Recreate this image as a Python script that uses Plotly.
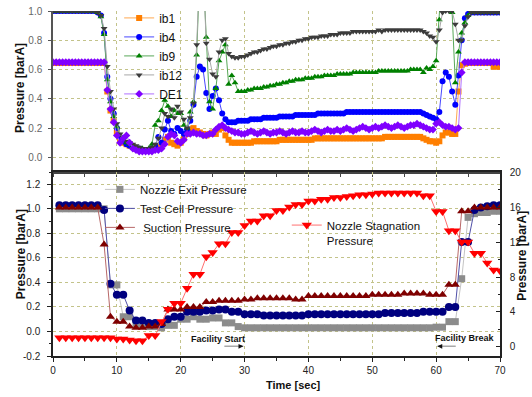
import plotly.graph_objects as go

# ---------------- data: top panel (sampled every 0.5 s, 0..70 s) ----------------
time_top = [i / 2 for i in range(141)]

ib1 = [0.645, 0.645, 0.645, 0.645, 0.645, 0.645, 0.645, 0.645, 0.645, 0.645,
       0.645, 0.645, 0.645, 0.645, 0.645, 0.645, 0.645, 0.45, 0.32, 0.25,
       0.17, 0.12, 0.10, 0.09, 0.08, 0.07, 0.06, 0.05, 0.05, 0.05,
       0.05, 0.05, 0.06, 0.07, 0.09, 0.12, 0.14, 0.10, 0.09, 0.08,
       0.10, 0.13, 0.16, 0.19, 0.20, 0.18, 0.17, 0.16, 0.15, 0.16,
       0.17, 0.16, 0.19, 0.20, 0.15, 0.12, 0.10, 0.10, 0.10, 0.10,
       0.10, 0.10, 0.10, 0.11, 0.11, 0.11, 0.11, 0.11, 0.11, 0.11,
       0.11, 0.12, 0.12, 0.12, 0.12, 0.12, 0.12, 0.12, 0.12, 0.12,
       0.12, 0.12, 0.13, 0.13, 0.13, 0.13, 0.13, 0.13, 0.13, 0.13,
       0.13, 0.13, 0.13, 0.13, 0.13, 0.13, 0.13, 0.13, 0.13, 0.13,
       0.13, 0.13, 0.13, 0.13, 0.14, 0.14, 0.14, 0.14, 0.14, 0.14,
       0.14, 0.14, 0.14, 0.14, 0.14, 0.14, 0.13, 0.12, 0.11, 0.11,
       0.10, 0.11, 0.15, 0.17, 0.17, 0.16, 0.16, 0.45, 0.63, 0.64,
       0.645, 0.645, 0.645, 0.645, 0.645, 0.645, 0.645, 0.645, 0.62, 0.62,
       0.62]

ib4 = [1.00, 1.00, 1.00, 1.00, 1.00, 1.00, 1.00, 1.00, 1.00, 1.00,
       1.00, 1.00, 1.00, 1.00, 0.99, 0.97, 0.85, 0.55, 0.40, 0.30,
       0.20, 0.14, 0.11, 0.09, 0.08, 0.07, 0.06, 0.06, 0.05, 0.05,
       0.05, 0.06, 0.08, 0.14, 0.10, 0.19, 0.25, 0.18, 0.16, 0.20,
       0.18, 0.16, 0.19, 0.25, 0.36, 0.55, 0.62, 0.60, 0.44, 0.33,
       0.42, 0.47, 0.39, 0.30, 0.26, 0.24, 0.24, 0.24, 0.25, 0.25,
       0.25, 0.25, 0.26, 0.26, 0.26, 0.26, 0.27, 0.27, 0.27, 0.27,
       0.27, 0.28, 0.28, 0.28, 0.28, 0.28, 0.29, 0.29, 0.29, 0.29,
       0.29, 0.29, 0.29, 0.30, 0.30, 0.30, 0.30, 0.30, 0.30, 0.30,
       0.30, 0.30, 0.31, 0.31, 0.31, 0.31, 0.31, 0.31, 0.31, 0.31,
       0.31, 0.31, 0.31, 0.31, 0.31, 0.31, 0.31, 0.31, 0.31, 0.31,
       0.31, 0.31, 0.31, 0.31, 0.31, 0.31, 0.30, 0.29, 0.28, 0.27,
       0.26, 0.31, 0.52, 0.58, 0.55, 0.45, 0.36, 0.56, 0.80, 0.95,
       0.98, 0.99, 0.99, 0.99, 0.99, 0.99, 0.99, 0.99, 0.99, 0.99,
       0.99]

ib9 = [1.00, 1.00, 1.00, 1.00, 1.00, 1.00, 1.00, 1.00, 1.00, 1.00,
       1.00, 1.00, 1.00, 1.00, 0.99, 0.96, 0.84, 0.53, 0.38, 0.28,
       0.21, 0.15, 0.12, 0.10, 0.09, 0.08, 0.07, 0.06, 0.06, 0.05,
       0.06, 0.09, 0.22, 0.25, 0.32, 0.39, 0.35, 0.28, 0.32, 0.30,
       0.30, 0.22, 0.20, 0.31, 0.38, 0.70, 1.30, 1.30, 0.82, 0.38,
       0.33, 0.47, 0.66, 0.72, 0.77, 0.50, 0.56, 0.51, 0.45, 0.45,
       0.45, 0.46, 0.46, 0.47, 0.47, 0.47, 0.48, 0.48, 0.49, 0.49,
       0.50, 0.50, 0.51, 0.51, 0.52, 0.52, 0.53, 0.53, 0.53, 0.54,
       0.54, 0.54, 0.55, 0.55, 0.55, 0.56, 0.56, 0.56, 0.56, 0.57,
       0.57, 0.57, 0.57, 0.57, 0.58, 0.58, 0.58, 0.58, 0.58, 0.58,
       0.58, 0.58, 0.59, 0.59, 0.59, 0.59, 0.59, 0.59, 0.59, 0.59,
       0.59, 0.59, 0.60, 0.60, 0.60, 0.60, 0.58, 0.61, 0.60, 0.62,
       0.66, 0.94, 1.30, 1.30, 1.30, 0.99, 0.51, 0.72, 0.85, 0.92,
       0.97, 0.99, 0.99, 0.99, 0.99, 0.99, 0.99, 0.99, 0.99, 0.99,
       0.99]

ib12 = [1.00, 1.00, 1.00, 1.00, 1.00, 1.00, 1.00, 1.00, 1.00, 1.00,
        1.00, 1.00, 1.00, 1.00, 0.99, 0.97, 0.88, 0.62, 0.45, 0.33,
        0.23, 0.16, 0.13, 0.11, 0.10, 0.09, 0.08, 0.07, 0.06, 0.06,
        0.06, 0.07, 0.09, 0.13, 0.20, 0.30, 0.28, 0.33, 0.27, 0.35,
        0.31, 0.26, 0.20, 0.27, 0.37, 0.77, 1.30, 1.30, 0.78, 0.67,
        0.57, 0.55, 0.72, 0.80, 0.81, 0.71, 0.69, 0.68, 0.68, 0.69,
        0.69, 0.70, 0.71, 0.72, 0.72, 0.73, 0.74, 0.74, 0.75, 0.76,
        0.76, 0.77, 0.77, 0.78, 0.78, 0.79, 0.79, 0.80, 0.80, 0.81,
        0.81, 0.82, 0.82, 0.82, 0.83, 0.83, 0.83, 0.84, 0.84, 0.84,
        0.85, 0.85, 0.85, 0.85, 0.86, 0.86, 0.86, 0.86, 0.86, 0.86,
        0.86, 0.86, 0.87, 0.86, 0.87, 0.87, 0.87, 0.87, 0.87, 0.87,
        0.87, 0.87, 0.87, 0.87, 0.87, 0.87, 0.86, 0.85, 0.83, 0.82,
        0.79, 0.87, 0.99, 1.00, 1.00, 1.00, 0.91, 0.80, 0.80, 0.90,
        0.96, 0.99, 0.99, 0.99, 0.99, 0.99, 0.99, 0.99, 0.99, 0.99,
        0.99]

de1 = [0.65, 0.65, 0.65, 0.65, 0.65, 0.65, 0.65, 0.65, 0.65, 0.65,
       0.65, 0.65, 0.65, 0.65, 0.65, 0.65, 0.65, 0.46, 0.33, 0.24,
       0.15, 0.10, 0.13, 0.15, 0.10, 0.06, 0.05, 0.04, 0.04, 0.04,
       0.04, 0.04, 0.05, 0.05, 0.06, 0.09, 0.14, 0.16, 0.15, 0.11,
       0.10, 0.12, 0.16, 0.16, 0.17, 0.16, 0.16, 0.15, 0.15, 0.16,
       0.16, 0.19, 0.21, 0.22, 0.20, 0.19, 0.18, 0.17, 0.17, 0.16,
       0.16, 0.17, 0.18, 0.17, 0.16, 0.17, 0.18, 0.17, 0.16, 0.17,
       0.17, 0.18, 0.17, 0.16, 0.17, 0.18, 0.17, 0.17, 0.18, 0.17,
       0.17, 0.18, 0.19, 0.18, 0.17, 0.18, 0.19, 0.18, 0.18, 0.19,
       0.18, 0.19, 0.20, 0.19, 0.18, 0.19, 0.20, 0.21, 0.20, 0.19,
       0.20, 0.21, 0.20, 0.21, 0.22, 0.21, 0.20, 0.21, 0.22, 0.21,
       0.20, 0.21, 0.22, 0.22, 0.23, 0.22, 0.21, 0.20, 0.19, 0.19,
       0.23, 0.24, 0.22, 0.21, 0.21, 0.20, 0.19, 0.20, 0.58, 0.65,
       0.65, 0.65, 0.65, 0.65, 0.65, 0.65, 0.65, 0.65, 0.65, 0.65,
       0.65]

# ---------------- data: bottom panel (every 1 s, 1..70 s) ----------------
time_bottom = list(range(1, 71))

nozzle_exit = [1.00, 1.00, 1.00, 1.00, 1.00, 1.00, 1.00, 1.00, 0.38, 0.38,
               0.12, 0.12, 0.06, 0.06, 0.04, 0.04, 0.03, 0.05, 0.05, 0.10,
               0.10, 0.12, 0.10, 0.10, 0.11, 0.11, 0.07, 0.07, 0.04, 0.03,
               0.03, 0.03, 0.03, 0.03, 0.03, 0.03, 0.03, 0.03, 0.03, 0.03,
               0.03, 0.03, 0.03, 0.03, 0.03, 0.03, 0.03, 0.03, 0.03, 0.03,
               0.03, 0.03, 0.03, 0.03, 0.03, 0.03, 0.03, 0.03, 0.03, 0.035,
               0.035, 0.08, 0.08, 0.43, 0.93, 0.96, 0.97, 0.97, 0.98, 0.98]

test_cell = [1.03, 1.03, 1.03, 1.03, 1.03, 1.03, 1.03, 0.99, 0.39, 0.30,
             0.30, 0.17, 0.09, 0.09, 0.07, 0.07, 0.06, 0.10, 0.12, 0.12,
             0.16, 0.16, 0.16, 0.17, 0.17, 0.18, 0.18, 0.16, 0.16, 0.14,
             0.14, 0.14, 0.13, 0.13, 0.13, 0.13, 0.13, 0.13, 0.13, 0.14,
             0.14, 0.14, 0.14, 0.14, 0.14, 0.14, 0.14, 0.14, 0.14, 0.14,
             0.14, 0.15, 0.15, 0.15, 0.15, 0.15, 0.15, 0.16, 0.16, 0.16,
             0.16, 0.20, 0.20, 0.73, 0.73, 0.99, 1.01, 1.02, 1.03, 1.03]

suction = [1.01, 1.01, 1.01, 1.01, 1.01, 1.01, 1.01, 0.71, 0.12, 0.08,
           0.08, 0.04, 0.03, 0.03, 0.04, 0.04, 0.06, 0.18, 0.18, 0.18,
           0.20, 0.20, 0.20, 0.24, 0.24, 0.25, 0.25, 0.25, 0.25, 0.26,
           0.26, 0.27, 0.27, 0.27, 0.27, 0.27, 0.27, 0.26, 0.26, 0.29,
           0.29, 0.29, 0.29, 0.29, 0.29, 0.29, 0.29, 0.29, 0.29, 0.30,
           0.30, 0.30, 0.30, 0.30, 0.31, 0.31, 0.31, 0.31, 0.30, 0.30,
           0.30, 0.38, 0.38, 0.98, 0.98, 1.01, 1.01, 1.01, 1.01, 1.01]

stagnation = [1.07, 1.07, 1.07, 1.07, 1.07, 1.07, 1.07, 1.07, 1.07, 0.90,
              0.90, 0.80, 0.70, 0.70, 1.30, 1.30, 2.90, 4.30, 5.00, 5.00,
              6.70, 8.30, 8.30, 10.3, 10.8, 11.8, 11.8, 13.1, 13.1, 13.9,
              14.4, 14.4, 15.0, 15.0, 15.6, 15.6, 16.0, 16.3, 16.3, 16.7,
              16.7, 16.9, 16.9, 17.1, 17.1, 17.2, 17.3, 17.4, 17.4, 17.5,
              17.6, 17.6, 17.6, 17.6, 17.6, 17.6, 17.6, 17.3, 17.3, 15.5,
              15.5, 13.3, 13.3, 12.0, 12.0, 10.7, 10.7, 9.6, 8.8, 8.7]

# ---------------- styling ----------------
FONT = "Arial, Liberation Sans, sans-serif"
GRID = "#c3c38a"

top_series = [
    ("ib1", ib1, "square", "#ff7f00", "#ffa850"),
    ("ib4", ib4, "circle", "#0000ff", "#4848ff"),
    ("ib9", ib9, "triangle-up", "#008000", "#58a858"),
    ("ib12", ib12, "triangle-down", "#3c3c3c", "#a8a8a8"),
    ("DE1", de1, "diamond", "#8000ff", "#b070ff"),
]

fig = go.Figure()

for name, vals, sym, mcol, lcol in top_series:
    fig.add_trace(go.Scatter(
        x=time_top, y=vals, name=name, mode="lines+markers",
        xaxis="x", yaxis="y", legend="legend",
        line=dict(color=lcol, width=1),
        marker=dict(symbol=sym, size=6, color=mcol, line=dict(width=0)),
    ))

bottom_series = [
    ("Nozzle Exit Pressure", nozzle_exit, "square", "#8c8c8c", "#c4c4c4", 7),
    ("Test Cell Pressure", test_cell, "circle", "#00007f", "#5050a8", 8),
    (" Suction Pressure", suction, "triangle-up", "#7f0000", "#b86868", 8),
]
for name, vals, sym, mcol, lcol, sz in bottom_series:
    fig.add_trace(go.Scatter(
        x=time_bottom, y=vals, name=name, mode="lines+markers",
        xaxis="x2", yaxis="y2", legend="legend2",
        line=dict(color=lcol, width=1),
        marker=dict(symbol=sym, size=sz, color=mcol, line=dict(width=0)),
    ))

fig.add_trace(go.Scatter(
    x=time_bottom, y=stagnation, name="Nozzle Stagnation<br>Pressure",
    mode="lines+markers", xaxis="x2", yaxis="y3", legend="legend3",
    line=dict(color="#ff7070", width=1),
    marker=dict(symbol="triangle-down", size=9, color="#ff0000", line=dict(width=0)),
))

axis_line = dict(showline=True, linewidth=1.5, zeroline=False, automargin=False)

fig.update_layout(
    template="none",
    width=532, height=397,
    margin=dict(l=53, r=32, t=11, b=41, autoexpand=False),
    paper_bgcolor="white", plot_bgcolor="white",
    font=dict(family=FONT, color="#111"),
    xaxis=dict(domain=[0, 1], anchor="y", range=[0, 70],
               tickvals=[0, 10, 20, 30, 40, 50, 60], showticklabels=False,
               ticks="outside", ticklen=3, tickcolor="#444",
               showgrid=True, gridcolor=GRID, griddash="dot", gridwidth=1,
               linecolor="#444",
               minor=dict(tickvals=[5, 15, 25, 35, 45, 55, 65], ticks="outside",
                          ticklen=3, tickcolor="#444", showgrid=False),
               **axis_line),
    yaxis=dict(domain=[0.5333, 1], anchor="x", range=[-0.1, 1.0],
               tickvals=[0, 0.2, 0.4, 0.6, 0.8, 1.0],
               ticktext=["0.0", "0.2", "0.4", "0.6", "0.8", "1.0"],
               ticks="outside", ticklen=3, tickcolor="#555",
               tickfont=dict(size=10, color="#666", family=FONT),
               ticklabelstandoff=4,
               showgrid=True, gridcolor=GRID, griddash="dot", gridwidth=1,
               linecolor="#555",
               **axis_line),
    xaxis2=dict(domain=[0, 1], anchor="y2", range=[0, 70],
                tickvals=[0, 10, 20, 30, 40, 50, 60, 70],
                ticks="outside", ticklen=4, tickcolor="#222",
                tickfont=dict(size=10, color="#222", family=FONT),
                ticklabelstandoff=0,
                showgrid=True, gridcolor=GRID, griddash="dot", gridwidth=1,
                linecolor="#222", mirror=True,
                minor=dict(tickvals=[5, 15, 25, 35, 45, 55, 65], ticks="outside",
                           ticklen=3, tickcolor="#222", showgrid=False),
                **axis_line),
    yaxis2=dict(domain=[0, 0.5333], anchor="x2", range=[-0.2, 1.3],
                tickvals=[-0.2, 0, 0.2, 0.4, 0.6, 0.8, 1.0, 1.2],
                ticktext=["-0.2", "0.0", "0.2", "0.4", "0.6", "0.8", "1.0", "1.2"],
                ticks="outside", ticklen=4, tickcolor="#222",
                tickfont=dict(size=10, color="#222", family=FONT),
                ticklabelstandoff=5,
                showgrid=True, gridcolor=GRID, griddash="dot", gridwidth=1,
                linecolor="#222",
                minor=dict(dtick=0.1, tick0=0, ticks="outside", ticklen=2,
                           tickcolor="#222", showgrid=False),
                **axis_line),
    yaxis3=dict(overlaying="y2", anchor="x2", side="right", range=[-1.03, 20],
                tickvals=[0, 4, 8, 12, 16, 20],
                ticks="inside", ticklen=4, tickcolor="#222",
                tickfont=dict(size=10, color="#222", family=FONT),
                ticklabelstandoff=6,
                showgrid=False, linecolor="#222",
                minor=dict(dtick=2, tick0=0, ticks="inside", ticklen=2,
                           tickcolor="#222"),
                **axis_line),
    legend=dict(x=0.148, y=1.022, xanchor="left", yanchor="top",
                bgcolor="rgba(0,0,0,0)", borderwidth=0,
                font=dict(size=12, family=FONT, color="#111"),
                tracegroupgap=0),
    legend2=dict(x=0.105, y=0.525, xanchor="left", yanchor="top",
                 bgcolor="rgba(0,0,0,0)", borderwidth=0,
                 font=dict(size=11.5, family=FONT, color="#111"),
                 tracegroupgap=0),
    legend3=dict(x=0.523, y=0.42, xanchor="left", yanchor="top", valign="top",
                 bgcolor="rgba(0,0,0,0)", borderwidth=0,
                 font=dict(size=11.5, family=FONT, color="#111")),
    showlegend=True,
)

title_font = dict(size=12, family=FONT, color="#111", weight="bold")
centered = dict(xanchor="center", yanchor="middle", showarrow=False)
annotations = [
    dict(text="Pressure [barA]", xref="paper", yref="paper", x=-0.0737, y=0.777,
         textangle=-90, font=title_font, **centered),
    dict(text="Pressure [barA]", xref="paper", yref="paper", x=-0.071, y=0.296,
         textangle=-90, font=title_font, **centered),
    dict(text="Pressure [barA]", xref="paper", yref="paper", x=1.049, y=0.29,
         textangle=-90, font=title_font, **centered),
    dict(text="Time [sec]", xref="paper", yref="paper", x=0.538, y=-0.084,
         font=dict(size=11, family=FONT, color="#111", weight="bold"), **centered),
    dict(text="Facility Start", xref="x2", yref="y2", x=25.9, y=-0.058,
         font=dict(size=9, family=FONT, color="#111", weight="bold"), **centered),
    dict(text="Facility Break", xref="x2", yref="y2", x=64.5, y=-0.05,
         font=dict(size=9, family=FONT, color="#111", weight="bold"), **centered),
    # arrows
    dict(x=29.8, y=-0.121, ax=26.6, ay=-0.121, xref="x2", yref="y2",
         axref="x2", ayref="y2", showarrow=True, arrowhead=0, arrowwidth=1.5,
         arrowcolor="#a8a8a8", text=""),
    dict(x=29.8, y=-0.121, ax=28.9, ay=-0.121, xref="x2", yref="y2",
         axref="x2", ayref="y2", showarrow=True, arrowhead=2, arrowsize=0.8,
         arrowwidth=1.2, arrowcolor="#111", text=""),
    dict(x=60.2, y=-0.121, ax=63.3, ay=-0.121, xref="x2", yref="y2",
         axref="x2", ayref="y2", showarrow=True, arrowhead=0, arrowwidth=1.5,
         arrowcolor="#a8a8a8", text=""),
    dict(x=60.2, y=-0.121, ax=61.1, ay=-0.121, xref="x2", yref="y2",
         axref="x2", ayref="y2", showarrow=True, arrowhead=2, arrowsize=0.8,
         arrowwidth=1.2, arrowcolor="#111", text=""),
]
fig.update_layout(annotations=annotations)

fig.write_html("out.html")
